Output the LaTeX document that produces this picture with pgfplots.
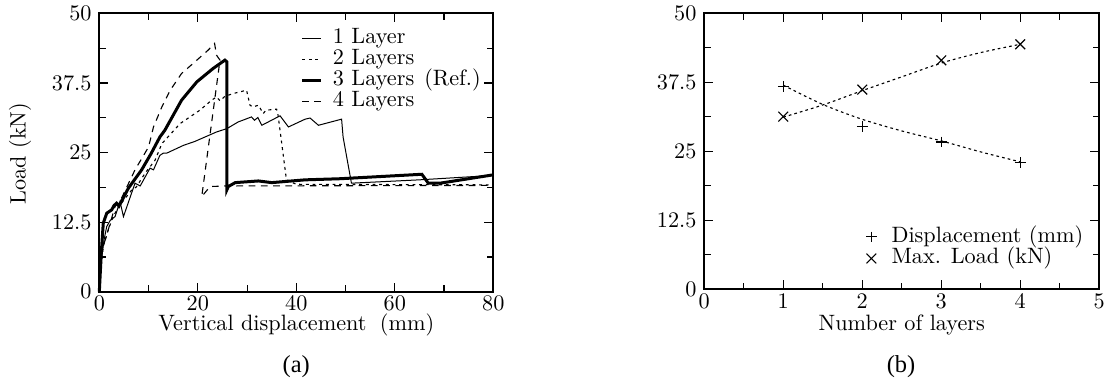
\documentclass[border=0pt]{standalone}
\usepackage{fontspec}
\newfontfamily\timesf{Liberation Serif}
\usepackage{pgfplots}
\pgfplotsset{compat=1.18}
\pgfplotsset{
  common/.style={
    scale only axis,
    axis line style={line width=0.8pt},
    tick style={line width=0.5pt, black},
    major tick length=4pt, minor tick length=3pt,
    ymin=0, ymax=50,
    ytick={0,12.5,25,37.5,50},
    yticklabels={0,12.5,25,37.5,50},
    minor ytick={6.25,18.75,31.25,43.75},
    label style={font=\fontsize{10}{12}\selectfont},
    tick label style={font=\fontsize{10}{12}\selectfont},
    xticklabel style={inner sep=2pt},
    clip=false,
  }
}
\begin{document}
\begin{tikzpicture}[x=1pt,y=1pt]
\begin{axis}[common, at={(0pt,0pt)}, anchor=south west,
  width=177.3pt, height=125.28pt,
  xmin=0, xmax=80, xtick={0,20,40,60,80}, minor xtick={10,30,50,70},
  xlabel={Vertical displacement\hspace{0.6em}(mm)}, ylabel={Load (kN)},
  xlabel style={at={(axis description cs:0.5,-0.118)}, anchor=center},
  ylabel style={at={(axis description cs:-0.201,0.496)}, anchor=center},
  legend style={at={(axis description cs:0.511,0.947)}, anchor=north west,
    draw=none, fill=none, inner sep=0pt, outer sep=0pt, row sep=0pt,
    nodes={inner sep=0pt, outer sep=0pt, text height=7pt, text depth=2.45pt, font=\fontsize{10}{12}\selectfont}},
  legend cell align=left,
  legend image code/.code={\draw[#1] (0pt,0pt) -- (8.7pt,0pt); \path (13.2pt,0pt);},
]
\addplot[black, line width=0.45pt] coordinates {
(0,0) (0.2,3) (0.5,6.3) (1.0,9.5) (1.5,11.7) (2.2,12.8) (3.2,13.5) (4.2,16.2) (4.9,13.5)
(7.25,19.5) (8.3,19.0) (10.3,22.2) (11.0,21.9) (12.3,24.5) (13.0,24.9) (13.7,24.9)
(17.1,26.3) (19.4,27.0) (23.8,28.7) (25.9,29.3) (28.2,30.5) (30.9,31.4) (31.5,30.8)
(32.2,31.3) (33.0,29.9) (36.7,31.6) (38.4,29.6) (41.8,31.0) (42.8,31.2) (44.5,29.9)
(49.2,31.0) (49.5,27.8) (51.2,19.5) (65,20.1) (80,20.9)};
\addlegendentry{1 Layer}
\addplot[black, line width=0.5pt, dash pattern=on 1.3pt off 1.7pt] coordinates {
(0,0) (0.3,4) (0.8,8.1) (1.8,11.1) (2.8,13.5) (3.7,14.9) (5,16.5) (6.6,18.3) (7.5,18.8)
(9.3,21.3) (11.3,23.6) (12.7,26.6) (16.4,30.2) (20.4,32.6) (22.8,34.4) (23.8,35.0)
(24.5,34.3) (25.5,35.1) (27.2,35.6) (29.9,36.2) (30.6,33.5) (31.2,33.2) (32.3,33.5)
(33.3,32.0) (33.8,32.6) (36.0,32.8) (36.3,31.7) (38.0,20.1) (40,19.3) (80,19.2)};
\addlegendentry{2 Layers}
\addplot[black, line width=1.35pt] coordinates {
(0,0) (0.4,7) (0.8,12.3) (1.5,14.1) (2.5,14.7) (3.0,15.5) (3.5,15.9) (4.0,15.4)
(5.9,18.6) (8.6,21.9) (10.5,24.8) (12.3,27.8) (13.3,29.0) (16.7,34.4) (19.8,37.7)
(23.1,40.1) (25.5,41.6) (25.9,41.3) (25.9,18.3) (26.2,18.9) (27.6,19.6) (32.3,19.9)
(35.0,19.6) (41.8,20.1) (48.9,20.3) (65.5,21.1) (66.8,19.5) (69.2,19.5) (80,21.0)};
\addlegendentry{3 Layers\hspace{0.45em}(Ref.)}
\addplot[black, line width=0.5pt, dash pattern=on 3pt off 2.5pt] coordinates {
(0,0) (0.5,7.5) (1.2,9.3) (2.2,12.3) (3.2,15.3) (4.5,16.8) (7.25,21.9) (10,26)
(11,29.6) (12.7,33.2) (14.4,36.2) (16.7,39.2) (19.8,41.6) (22.1,43.4) (23.4,44.6)
(23.8,42.5) (24.5,41.6) (20.8,17.1) (22.5,18.9) (25.9,19.0) (80,19.1)};
\addlegendentry{4 Layers}
\end{axis}
\begin{axis}[common, at={(272.25pt,1.08pt)}, anchor=south west,
  width=177.75pt, height=124.2pt,
  xmin=0, xmax=5, xtick={0,1,2,3,4,5}, minor xtick={0.5,1.5,2.5,3.5,4.5},
  xlabel={Number of layers},
  xlabel style={at={(axis description cs:0.5,-0.128)}, anchor=center},
  legend style={at={(axis description cs:0.405,0.229)}, anchor=north west,
    draw=none, fill=none, inner sep=0pt, outer sep=0pt, row sep=0pt,
    nodes={inner sep=0pt, outer sep=0pt, text height=7.2pt, text depth=2.5pt, font=\fontsize{10}{12}\selectfont}},
  legend cell align=left,
  legend image code/.code={\draw[#1] plot coordinates {(0pt,0pt)}; \path (-3pt,0pt) (8.9pt,0pt);},
]
\addplot[black, only marks, mark=+, mark size=2.4pt, mark options={line width=0.5pt}] coordinates {
(1,36.8) (2,29.5) (3,26.7) (4,23.0)};
\addlegendentry{Displacement (mm)}
\addplot[black, only marks, mark=x, mark size=3.1pt, mark options={line width=0.5pt}] coordinates {
(1,31.3) (2,36.2) (3,41.5) (4,44.4)};
\addlegendentry{Max. Load (kN)}
\addplot[black, line width=0.5pt, dash pattern=on 1.2pt off 1.4pt, smooth, forget plot] coordinates {
(1,37.0) (1.5,33.5) (2,30.8) (2.5,28.7) (3,26.9) (3.5,24.9) (4,23.1)};
\addplot[black, line width=0.5pt, dash pattern=on 1.2pt off 1.4pt, smooth, forget plot] coordinates {
(1,31.2) (1.5,33.4) (2,36.0) (2.5,38.5) (3,41.0) (3.5,42.9) (4,44.4)};
\end{axis}
\node[font=\timesf\fontsize{11}{13}\selectfont] at (88.65pt,-33.9pt) {(a)};
\node[font=\timesf\fontsize{11}{13}\selectfont] at (360.8pt,-33.9pt) {(b)};
\pgfresetboundingbox
\path (-44.7pt,-42.0pt) rectangle (455.3pt,131.3pt);
\end{tikzpicture}
\end{document}
